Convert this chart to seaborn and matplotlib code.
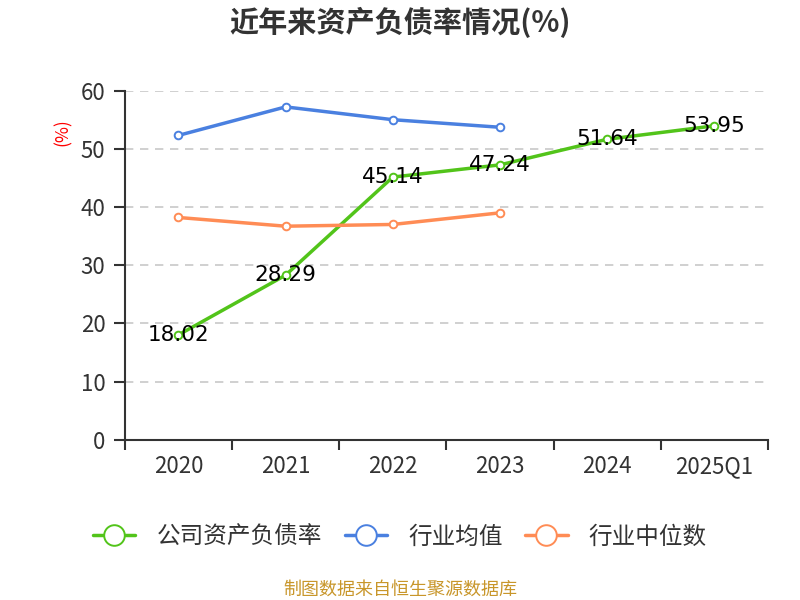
import matplotlib
matplotlib.use("Agg")
import matplotlib.pyplot as plt
import seaborn as sns
import pandas as pd
import numpy as np

sns.set_style("white")
plt.rcParams['font.family'] = ['Noto Sans CJK SC', 'DejaVu Sans']

categories = ["2020", "2021", "2022", "2023", "2024", "2025Q1"]
company = [18.02, 28.29, 45.14, 47.24, 51.64, 53.95]
industry_avg = [52.3, 57.2, 55.0, 53.7]
industry_median = [38.2, 36.7, 37.0, 39.0]
yticks = [0, 10, 20, 30, 40, 50, 60]

names = ["公司资产负债率", "行业均值", "行业中位数"]
colors = ["#52C41A", "#4A80E0", "#FF8C55"]

rows = []
for i, v in enumerate(company):
    rows.append((i, v, names[0]))
for i, v in enumerate(industry_avg):
    rows.append((i, v, names[1]))
for i, v in enumerate(industry_median):
    rows.append((i, v, names[2]))
df = pd.DataFrame(rows, columns=["x", "y", "series"])

fig = plt.figure(figsize=(8, 6), dpi=100)
ax = fig.add_axes([0.156, 0.267, 0.804, 0.582])

for name, c in zip(names, colors):
    sub = df[df.series == name]
    sns.lineplot(data=sub, x="x", y="y", ax=ax, color=c, linewidth=2.5,
                 marker="o", markersize=5.5, markerfacecolor="white",
                 markeredgecolor=c, markeredgewidth=1.4, label=name, zorder=3)

for i, v in enumerate(company):
    ax.text(i, v, f"{v:.2f}", ha="center", va="center", fontsize=15.5,
            color="black", zorder=5, family=['DejaVu Sans'])

ax.set_xlim(-0.5, len(categories) - 0.5)
ax.set_ylim(0, 60)
ax.set_yticks(yticks)
ax.set_yticklabels([str(t) for t in yticks], fontsize=16, color="#333333")
ax.set_xticks(np.arange(len(categories)))
ax.set_xticklabels(categories, fontsize=16, color="#333333")
ax.set_xticks(np.arange(len(categories) + 1) - 0.5, minor=True)
ax.tick_params(axis="x", which="major", bottom=True, length=0, pad=11)
ax.tick_params(axis="x", which="minor", bottom=True, length=7, width=1.5, color="#333333", direction="out")
ax.tick_params(axis="y", which="major", left=True, length=8, width=1.5, color="#333333", direction="out", pad=6)
ax.set_xlabel("")
ax.set_ylabel("")
for t in yticks[1:]:
    ax.axhline(t, color="#C8C8C8", linestyle=(0, (5, 4)), linewidth=1.2, zorder=1)

for s in ["top", "right"]:
    ax.spines[s].set_visible(False)
for s in ["left", "bottom"]:
    ax.spines[s].set_color("#333333")
    ax.spines[s].set_linewidth(1.5)

ax.text(-0.096, 0.88, "(%)", transform=ax.transAxes, rotation=90, color="red",
        fontsize=12.5, ha="center", va="center")

if ax.legend_:
    ax.legend_.remove()
handles, labels = ax.get_legend_handles_labels()
fig.legend(handles, labels, loc="center", bbox_to_anchor=(0.5, 0.105), ncol=3,
           frameon=False, fontsize=17, handlelength=1.8, columnspacing=0.95,
           handletextpad=0.9, markerscale=2.7, labelcolor="#333333")

fig.text(0.5, 0.962, "近年来资产负债率情况(%)", ha="center", va="center",
         fontsize=21, fontweight="bold", color="#333333")
fig.text(0.5, 0.017, "制图数据来自恒生聚源数据库", ha="center", va="center",
         fontsize=13, color="#C8962A")

fig.savefig("out.png", dpi=100)
